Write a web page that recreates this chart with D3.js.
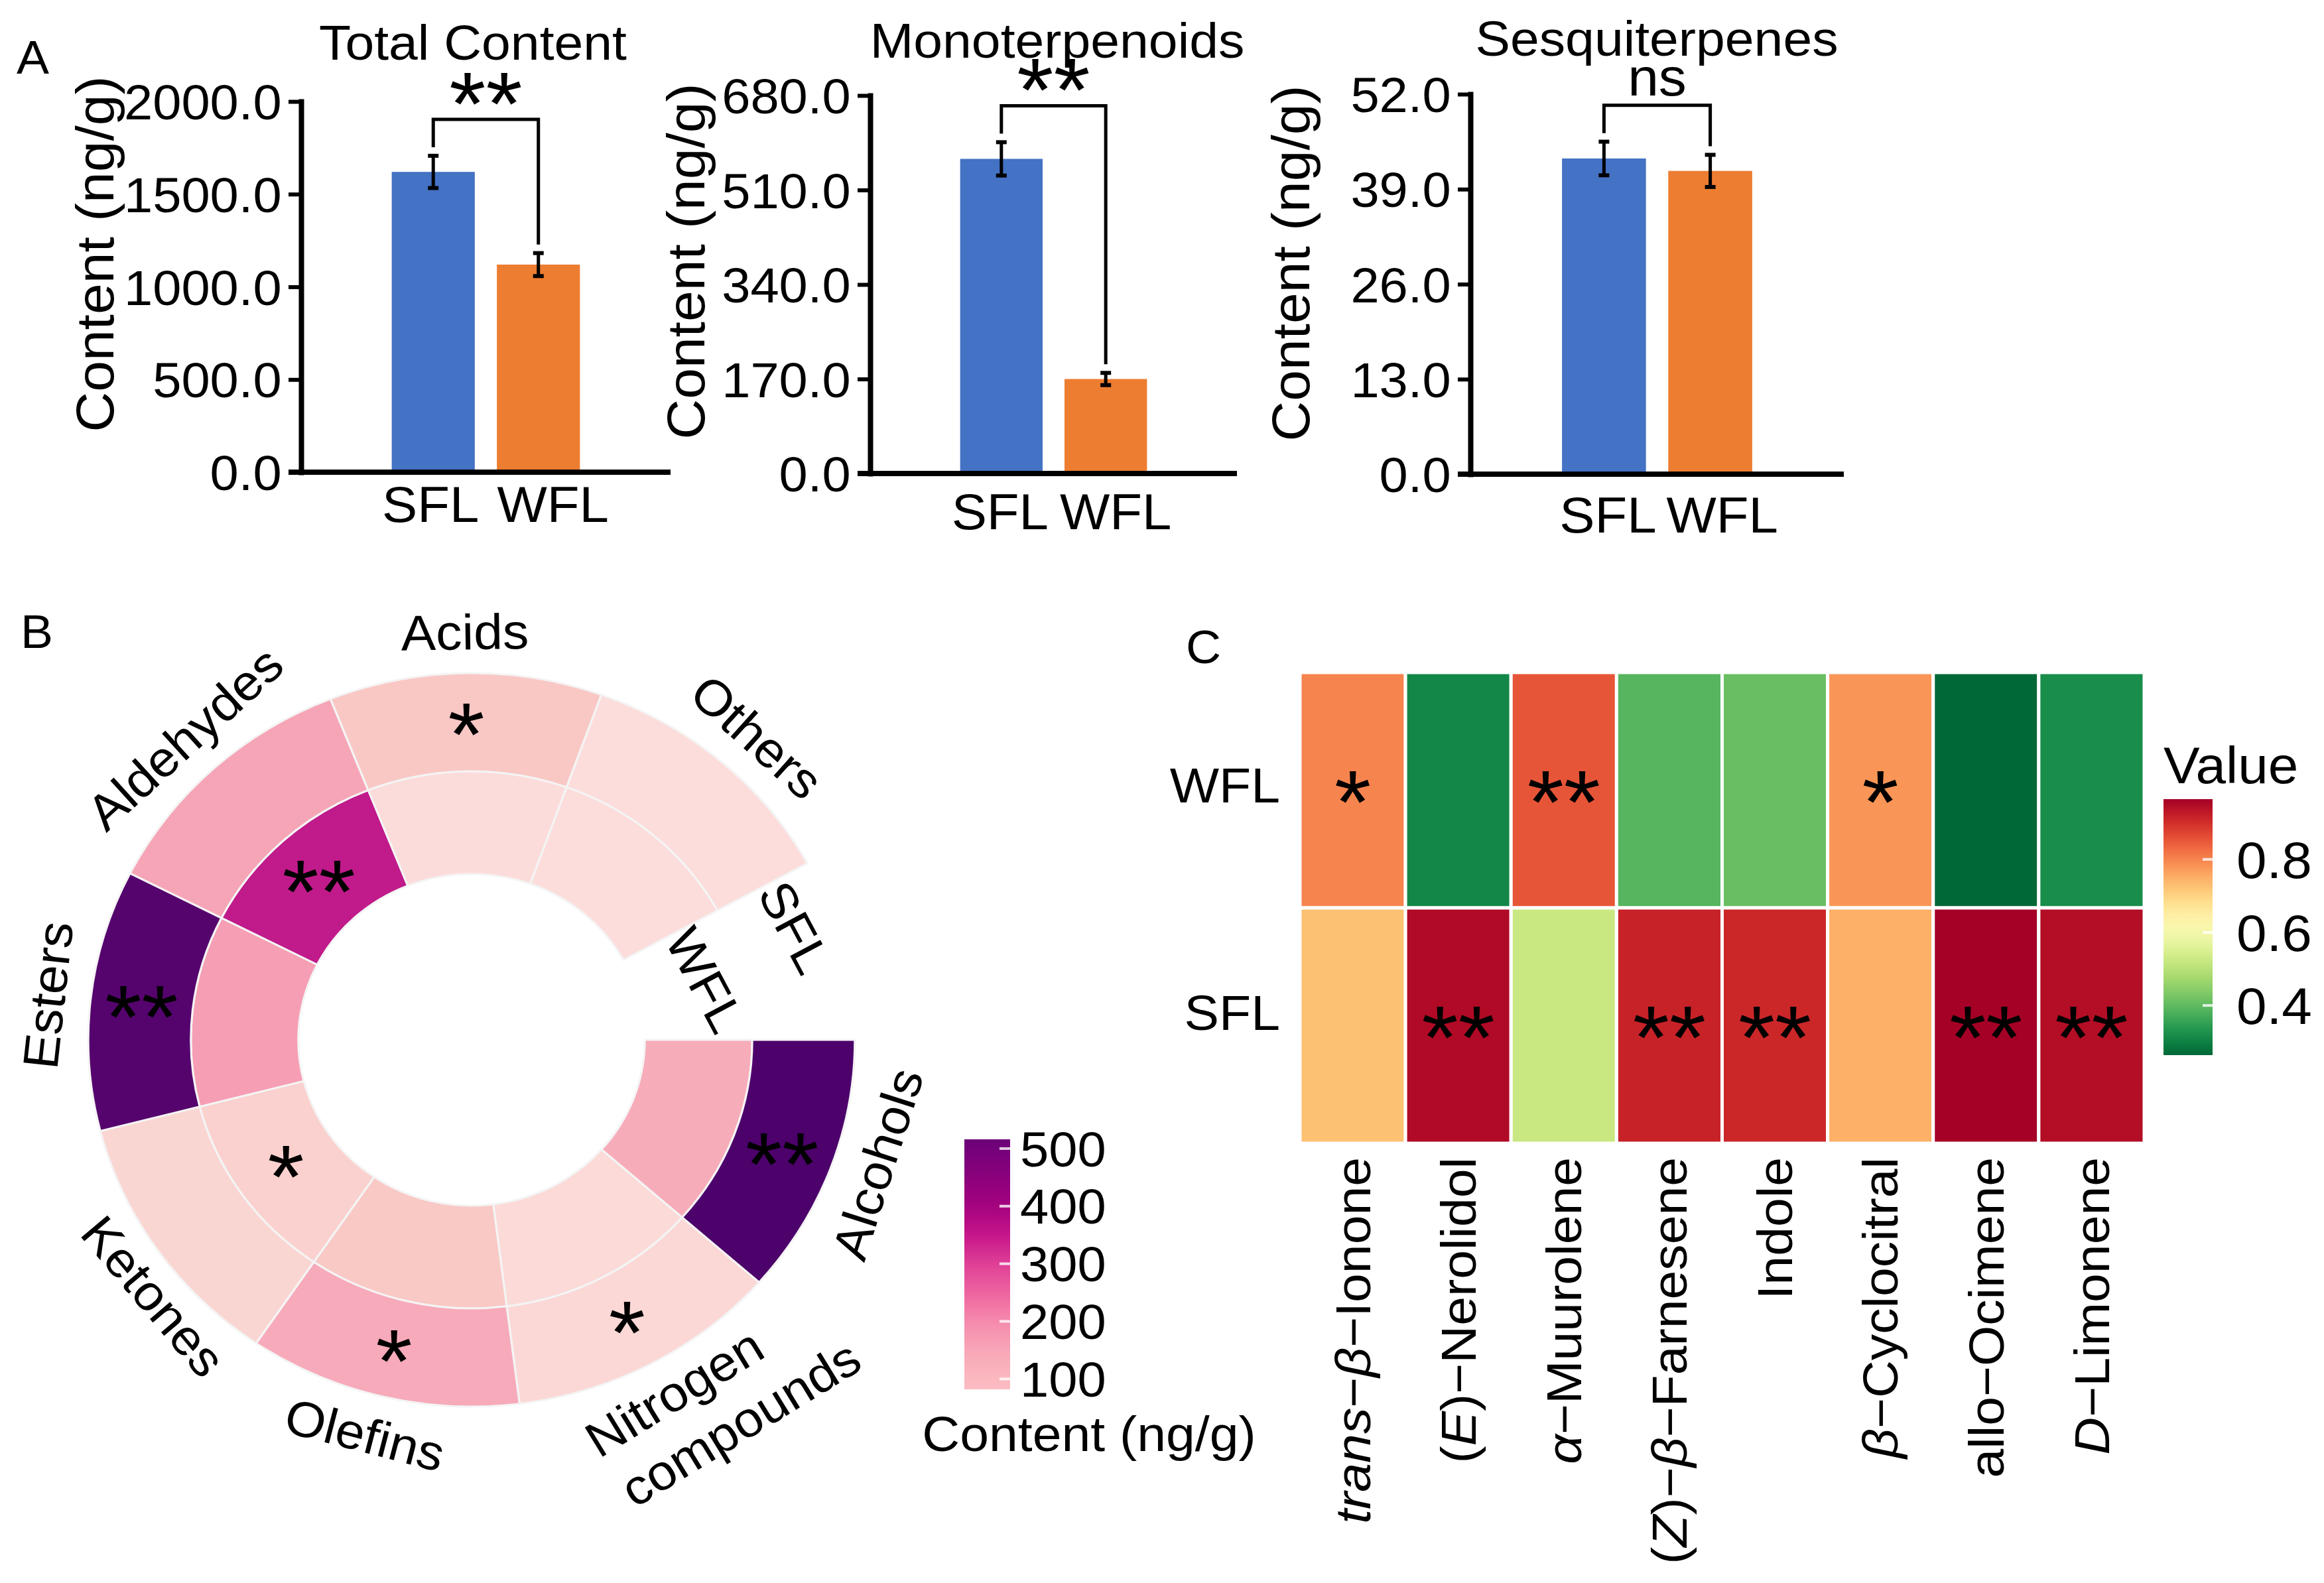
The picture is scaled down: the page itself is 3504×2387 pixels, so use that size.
<!DOCTYPE html>
<html><head><meta charset="utf-8">
<script src="https://cdn.jsdelivr.net/npm/d3@7"></script>
<style>
body{margin:0;background:#fff}
svg{display:block}
text{font-family:"Liberation Sans",Arial,sans-serif;fill:#000}
</style>
</head><body>
<svg id="c" width="3504" height="2387"></svg>
<script>
// ---------- Panel A data ----------
const groups = ["SFL", "WFL"];
const barTitles = ["Total Content", "Monoterpenoids", "Sesquiterpenes"];
const barMeans = [[1620, 1120], [566, 170], [43.2, 41.5]];
const barErrs = [[87, 62], [30, 11], [2.3, 2.2]];
const barMax = [2000, 680, 52];
const barTicks = [[0, 500, 1000, 1500, 2000], [0, 170, 340, 510, 680], [0, 13, 26, 39, 52]];
const barSig = ["**", "**", "ns"];

// ---------- Panel B data ----------
const ringCats = ["Alcohols", "Nitrogen compounds", "Olefins", "Ketones", "Esters", "Aldehydes", "Acids", "Others"];
const ringSFL = [516, 92, 168, 97, 505, 176, 122, 84];
const ringWFL = [165, 90, 120, 105, 185, 370, 86, 84];
const ringSigSFL = ["**", "*", "*", "", "**", "", "*", ""];
const ringSigWFL = ["", "", "", "*", "", "**", "", ""];
const ringLegendTicks = [100, 200, 300, 400, 500];
const ringFillDomain = [82, 100, 120, 170, 190, 370, 520];
const ringFillRange = ["#fcdedc", "#fad4d1", "#f9c9c6", "#f7a9b9", "#f59ab2", "#c01a8b", "#49006a"];
const ringLegendDomain = [82, 100, 150, 200, 250, 300, 350, 400, 450, 500, 516];
const ringLegendRange = ["#fbbcc2", "#fbb8c0", "#f8a7b7", "#f68aad", "#ee64a0", "#df3f96", "#c6158b", "#a5027e", "#8b017c", "#73017a", "#6b0177"];

// ---------- Panel C data ----------
const compounds = ["trans-β-Ionone", "(E)-Nerolidol", "α-Muurolene", "(Z)-β-Farnesene", "Indole", "β-Cyclocitral", "allo-Ocimene", "D-Limonene"];
const compoundLabels = [
  [["trans", 1], ["−", 0], ["β", 1], ["−Ionone", 0]],
  [["(", 0], ["E", 1], [")−Nerolidol", 0]],
  [["α", 1], ["−Muurolene", 0]],
  [["(", 0], ["Z", 1], [")−", 0], ["β", 1], ["−Farnesene", 0]],
  [["Indole", 0]],
  [["β", 1], ["−Cyclocitral", 0]],
  [["allo−Ocimene", 0]],
  [["D", 1], ["−Limonene", 0]]
];
const heatRows = ["WFL", "SFL"];
const heatWFL = [0.80, 0.31, 0.853, 0.39, 0.41, 0.78, 0.264, 0.32];
const heatSFL = [0.727, 0.95, 0.523, 0.916, 0.91, 0.748, 0.965, 0.945];
const heatSigWFL = ["*", "", "**", "", "", "*", "", ""];
const heatSigSFL = ["", "**", "", "**", "**", "", "**", "**"];
const heatLegendTicks = [0.4, 0.6, 0.8];

// ---------- helpers ----------
const svg = d3.select("#c");
const SX = 1.05;
function T(parent, x, y, s, o = {}) {
  const g = parent.append("g")
    .attr("transform", `translate(${x},${y}) rotate(${o.rot || 0}) scale(${o.sx == null ? SX : o.sx},1)`);
  const t = g.append("text")
    .attr("text-anchor", o.anchor || "middle")
    .attr("font-size", o.size || 75)
    .attr("dy", o.dy || 0)
    .text(s);
  return t;
}
const STAR = 135;
function stars(parent, x, y, s) {
  // y = visual centre of the asterisk glyphs
  if (!s) return;
  T(parent, x, y + 0.48 * STAR, s, {size: STAR});
}

// ---------- Panel A ----------
const barLayout = [
  {x0: 454, x1: 1011, y0: 712, y1: 153, titleX: 713, titleY: 90, ylabX: 143, ylabY: 383, xlabY: 787, xlabOff: [-4, 22]},
  {x0: 1312, x1: 1865, y0: 714, y1: 144, titleX: 1594, titleY: 87, ylabX: 1034, ylabY: 394, xlabY: 798, xlabOff: [-2, 15]},
  {x0: 2217, x1: 2780, y0: 715, y1: 142, titleX: 2498, titleY: 84, ylabX: 1946, ylabY: 397, xlabY: 803, xlabOff: [6, 18]}
];
const barColors = ["#4472c4", "#ed7d31"];
T(svg, 25, 111, "A", {anchor: "start", size: 70});

barTitles.forEach((title, i) => {
  const L = barLayout[i];
  const g = svg.append("g");
  const x = d3.scaleBand().domain(groups).range([L.x0, L.x1]).paddingInner(0.21).paddingOuter(0.862);
  const y = d3.scaleLinear().domain([0, barMax[i]]).range([L.y0, L.y1]);
  const bw = x.bandwidth();
  groups.forEach((grp, j) => {
    const m = barMeans[i][j];
    g.append("rect").attr("x", x(grp)).attr("y", y(m)).attr("width", bw)
      .attr("height", L.y0 - y(m)).attr("fill", barColors[j]);
  });
  // error bars
  groups.forEach((grp, j) => {
    const m = barMeans[i][j], e = barErrs[i][j], cx = x(grp) + bw / 2;
    g.append("line").attr("x1", cx).attr("x2", cx).attr("y1", y(m + e)).attr("y2", y(m - e))
      .attr("stroke", "#000").attr("stroke-width", 5);
    [m + e, m - e].forEach(v => g.append("line").attr("x1", cx - 8).attr("x2", cx + 8)
      .attr("y1", y(v)).attr("y2", y(v)).attr("stroke", "#000").attr("stroke-width", 6));
  });
  // axes
  const ax = d3.axisLeft(y).tickValues(barTicks[i]).tickFormat(d3.format(".1f"))
    .tickSize(19).tickSizeOuter(0).tickPadding(9);
  const ga = g.append("g").attr("transform", `translate(${L.x0},0)`).call(ax)
    .attr("font-family", "Liberation Sans, Arial, sans-serif").attr("font-size", 74);
  ga.select(".domain").attr("stroke", "#000").attr("stroke-width", 8).attr("stroke-linecap", "square");
  ga.selectAll(".tick line").attr("stroke", "#000").attr("stroke-width", 6);
  ga.selectAll(".tick text").attr("fill", "#000").attr("dy", "0.36em")
    .attr("transform", `scale(${SX},1)`);
  g.append("line").attr("x1", L.x0 - 19).attr("x2", L.x1).attr("y1", L.y0).attr("y2", L.y0)
    .attr("stroke", "#000").attr("stroke-width", 8);
  // x labels
  groups.forEach((grp, j) => T(g, x(grp) + bw / 2 + L.xlabOff[j], L.xlabY, grp, {size: 76}));
  // title, y label
  T(g, L.titleX, L.titleY, title, {size: 75});
  T(g, L.ylabX, L.ylabY, "Content (ng/g)", {size: 80, rot: -90, dy: "0.35em"});
  // significance bracket
  const c0 = x(groups[0]) + bw / 2, c1 = x(groups[1]) + bw / 2;
  const t0 = y(barMeans[i][0] + barErrs[i][0]), t1 = y(barMeans[i][1] + barErrs[i][1]);
  const top = Math.min(t0, t1) - 55;
  g.append("path").attr("d", `M${c0},${t0 - 13}V${top}H${c1}V${t1 - 13}`)
    .attr("fill", "none").attr("stroke", "#000").attr("stroke-width", 5);
  if (barSig[i] === "ns") T(g, (c0 + c1) / 2, top - 15, "ns", {size: 80});
  else stars(g, (c0 + c1) / 2, top - 42, barSig[i]);
});

// ---------- Panel B ----------
T(svg, 31, 977, "B", {anchor: "start", size: 70});
const cxB = 711, cyB = 1568, STRB = 1.045;
const gB = svg.append("g").attr("transform", `translate(${cxB},${cyB}) scale(${STRB},1)`);
const gBt = svg.append("g").attr("transform", `translate(${cxB},${cyB})`);
const ang = d3.scaleBand().domain(ringCats)
  .range([Math.PI / 2, Math.PI / 2 + 331.2 * Math.PI / 180]);
const ringFill = d3.scaleLinear().domain(ringFillDomain).range(ringFillRange).interpolate(d3.interpolateRgb);
const rings = [
  {name: "WFL", vals: ringWFL, sig: ringSigWFL, r0: 250, r1: 405},
  {name: "SFL", vals: ringSFL, sig: ringSigSFL, r0: 405, r1: 553}
];
const arc = d3.arc();
const pol = (a, r) => [STRB * r * Math.sin(a), -r * Math.cos(a)];
rings.forEach(R => {
  ringCats.forEach((c, k) => {
    gB.append("path").attr("d", arc({innerRadius: R.r0, outerRadius: R.r1,
      startAngle: ang(c), endAngle: ang(c) + ang.bandwidth()}))
      .attr("fill", ringFill(R.vals[k])).attr("stroke", "#f4f4f4").attr("stroke-width", 3);
  });
});
rings.forEach(R => {
  ringCats.forEach((c, k) => {
    const a = ang(c) + ang.bandwidth() / 2;
    const [px, py] = pol(a, (R.r0 + R.r1) / 2);
    stars(gBt, px, py, R.sig[k]);
  });
});
// category labels (small angular / radial nudges as in the reference)
const ringLabelNudge = {"Alcohols": -3, "Nitrogen compounds": -3.6, "Ketones": -5, "Others": 1.5, "Olefins": 1};
const ringLabelR = {"Ketones": 600, "Nitrogen compounds": 651};
ringCats.forEach(c => {
  const a = ang(c) + ang.bandwidth() / 2 + (ringLabelNudge[c] || 0) * Math.PI / 180;
  let deg = a * 180 / Math.PI;
  deg = ((deg % 360) + 360) % 360;
  let rot = deg;
  if (deg > 90 && deg < 270) rot = deg - 180;
  if (rot > 180) rot -= 360;
  const lines = c === "Nitrogen compounds" ? ["Nitrogen", "compounds"] : [c];
  const r = ringLabelR[c] || 615;
  const [px, py] = pol(a, r);
  const g = gBt.append("g").attr("transform", `translate(${px},${py}) rotate(${rot}) scale(${SX},1)`);
  if (lines.length === 1) {
    g.append("text").attr("text-anchor", "middle").attr("font-size", 75).attr("dy", "0.35em").text(c);
  } else {
    g.append("text").attr("text-anchor", "middle").attr("font-size", 75)
      .attr("x", -29).attr("y", -46).attr("dy", "0.35em").text(lines[0]);
    g.append("text").attr("text-anchor", "middle").attr("font-size", 75)
      .attr("x", 29).attr("y", 46).attr("dy", "0.35em").text(lines[1]);
  }
});
// ring labels in the gap
[["SFL", 70, 496], ["WFL", 75, 349]].forEach(([s, adeg, r]) => {
  const [px, py] = pol(adeg * Math.PI / 180, r);
  T(gBt, px, py, s, {size: 75, rot: 62, dy: "0.35em"});
});
// legend B
const defs = svg.append("defs");
const lgB = {x: 1454, y0: 2095, y1: 1718, w: 69};
const lyB = d3.scaleLinear().domain([ringLegendDomain[0], ringLegendDomain[ringLegendDomain.length - 1]]).range([lgB.y0, lgB.y1]);
const ringLegendScale = d3.scaleLinear().domain(ringLegendDomain).range(ringLegendRange);
const gradB = defs.append("linearGradient").attr("id", "gradB").attr("x1", 0).attr("y1", 1).attr("x2", 0).attr("y2", 0);
d3.range(0, 1.0001, 0.05).forEach(t => {
  const v = lyB.domain()[0] + t * (lyB.domain()[1] - lyB.domain()[0]);
  gradB.append("stop").attr("offset", t).attr("stop-color", ringLegendScale(v));
});
svg.append("rect").attr("x", lgB.x).attr("y", lgB.y1).attr("width", lgB.w).attr("height", lgB.y0 - lgB.y1)
  .attr("fill", "url(#gradB)");
ringLegendTicks.forEach(v => {
  svg.append("line").attr("x1", lgB.x + lgB.w - 16).attr("x2", lgB.x + lgB.w).attr("y1", lyB(v)).attr("y2", lyB(v))
    .attr("stroke", "#fff").attr("stroke-opacity", 0.8).attr("stroke-width", 4);
  T(svg, lgB.x + lgB.w + 15, lyB(v), String(v), {anchor: "start", size: 74, dy: "0.36em"});
});
T(svg, 1642, 2188, "Content (ng/g)", {size: 75});

// ---------- Panel C ----------
T(svg, 1788, 1000, "C", {anchor: "start", size: 70});
const hx = d3.scaleBand().domain(compounds).range([1960, 3233]);
const hy = d3.scaleBand().domain(heatRows).range([1014, 1724]);
const heatAll = heatWFL.concat(heatSFL);
const heatExt = d3.extent(heatAll);
const heatColor = d3.scaleSequential(t => d3.interpolateRdYlGn(1 - t)).domain(heatExt);
const heatData = {WFL: heatWFL, SFL: heatSFL};
const heatSig = {WFL: heatSigWFL, SFL: heatSigSFL};
heatRows.forEach(r => {
  compounds.forEach((c, k) => {
    svg.append("rect").attr("x", hx(c)).attr("y", hy(r)).attr("width", hx.bandwidth()).attr("height", hy.bandwidth())
      .attr("fill", heatColor(heatData[r][k])).attr("stroke", "#fff").attr("stroke-width", 5);
  });
});
const rowLabelShift = {WFL: -8, SFL: -20};
heatRows.forEach(r => {
  compounds.forEach((c, k) => {
    stars(svg, hx(c) + hx.bandwidth() / 2, hy(r) + hy.bandwidth() / 2, heatSig[r][k]);
  });
  T(svg, 1930, hy(r) + hy.bandwidth() / 2 + rowLabelShift[r], r, {anchor: "end", size: 75, dy: "0.35em"});
});
compounds.forEach((c, k) => {
  const g = svg.append("g")
    .attr("transform", `translate(${hx(c) + hx.bandwidth() / 2},1745) rotate(-90) scale(${SX},1)`);
  const t = g.append("text").attr("text-anchor", "end").attr("font-size", 75).attr("dy", "0.35em");
  compoundLabels[k].forEach(([s, it]) => {
    t.append("tspan").attr("font-style", it ? "italic" : "normal").text(s);
  });
});
// legend C
const lgC = {x: 3262, y0: 1591, y1: 1205, w: 74};
const lyC = d3.scaleLinear().domain(heatExt).range([lgC.y0, lgC.y1]);
const gradC = defs.append("linearGradient").attr("id", "gradC").attr("x1", 0).attr("y1", 1).attr("x2", 0).attr("y2", 0);
d3.range(0, 1.0001, 0.05).forEach(t => {
  gradC.append("stop").attr("offset", t).attr("stop-color", heatColor(heatExt[0] + t * (heatExt[1] - heatExt[0])));
});
svg.append("rect").attr("x", lgC.x).attr("y", lgC.y1).attr("width", lgC.w).attr("height", lgC.y0 - lgC.y1)
  .attr("fill", "url(#gradC)");
heatLegendTicks.forEach(v => {
  svg.append("line").attr("x1", lgC.x + lgC.w - 15).attr("x2", lgC.x + lgC.w).attr("y1", lyC(v)).attr("y2", lyC(v))
    .attr("stroke", "#fff").attr("stroke-opacity", 0.8).attr("stroke-width", 4);
  T(svg, lgC.x + lgC.w + 36, lyC(v), v.toFixed(1), {anchor: "start", size: 78, dy: "0.36em"});
});
T(svg, 3262, 1181, "Value", {anchor: "start", size: 78});
</script>
</body></html>
